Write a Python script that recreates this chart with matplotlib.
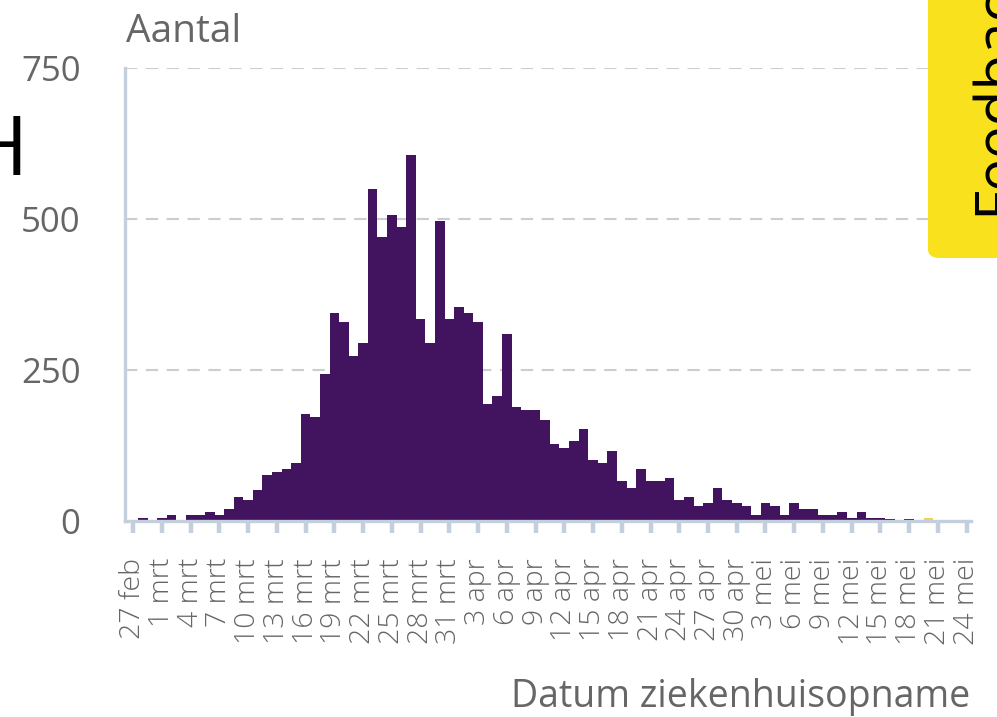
import matplotlib
matplotlib.use("Agg")
import matplotlib.pyplot as plt
from matplotlib.patches import FancyBboxPatch

# ---------------- data ----------------
tick_labels = ["27 feb", "1 mrt", "4 mrt", "7 mrt", "10 mrt", "13 mrt", "16 mrt",
               "19 mrt", "22 mrt", "25 mrt", "28 mrt", "31 mrt", "3 apr", "6 apr",
               "9 apr", "12 apr", "15 apr", "18 apr", "21 apr", "24 apr", "27 apr",
               "30 apr", "3 mei", "6 mei", "9 mei", "12 mei", "15 mei", "18 mei",
               "21 mei", "24 mei"]

# daily hospital admissions, 27 feb .. 24 mei (one value per day)
admissions = [0, 5, 0, 5, 10, 0, 10, 10, 15, 10,
              20, 40, 35, 51, 76, 81, 86, 96, 177, 172,
              243, 345, 329, 274, 294, 550, 471, 507, 487, 606,
              334, 294, 497, 334, 354, 344, 329, 193, 207, 309,
              188, 183, 183, 167, 127, 121, 132, 152, 101, 96,
              116, 66, 55, 86, 66, 66, 71, 35, 40, 25,
              30, 55, 35, 30, 25, 10, 30, 25, 10, 30,
              20, 20, 10, 10, 15, 5, 15, 5, 5, 4,
              0, 3, 0, 0, 0, 0, 0, 0]
# recent (not yet complete) reports
admissions_recent = [0] * 83 + [5] + [0] * 4

y_ticks = [0, 250, 500, 750]

# ---------------- style ----------------
W, H = 997, 717
PURPLE = "#42145f"
YELLOW = "#f4cf57"
GREY_TXT = "#666666"
AXIS_CLR = "#c3cfdd"
GRID_CLR = "#c9ced4"
FONT = ["Open Sans", "DejaVu Sans"]

plt.rcParams["font.family"] = FONT

fig = plt.figure(figsize=(W / 100, H / 100), dpi=100)
fig.patch.set_facecolor("white")

ax = fig.add_axes([125 / W, 1 - 521 / H, 846 / W, 453 / H])

x = list(range(len(admissions)))
ax.bar(x, admissions, width=1.0, color=PURPLE, linewidth=0, zorder=2)
ax.bar(x, admissions_recent, width=1.0, color=YELLOW, linewidth=0, zorder=2)

ax.set_xlim(-0.85, 87.45)
ax.set_ylim(0, 750)

ax.set_yticks(y_ticks)
ax.set_yticklabels([str(v) for v in y_ticks])
ax.tick_params(axis="y", length=0, pad=32, labelsize=25, labelcolor=GREY_TXT)

ax.set_xticks(list(range(0, len(admissions), 3)))
ax.set_xticklabels(tick_labels, rotation=90, fontweight="light")
ax.tick_params(axis="x", length=8.6, width=3.2, color=AXIS_CLR, pad=18,
               labelsize=20.5, labelcolor=GREY_TXT)

ax.grid(axis="y", color=GRID_CLR, linewidth=1.5, linestyle=(0, (5.9, 4.1)), zorder=1)
ax.set_axisbelow(True)

for s in ["top", "right"]:
    ax.spines[s].set_visible(False)
for s in ["left", "bottom"]:
    ax.spines[s].set_color(AXIS_CLR)
    ax.spines[s].set_linewidth(2.4)
    ax.spines[s].set_zorder(3)

# axis titles
fig.text(126 / W, 1 - 42 / H, "Aantal", ha="left", va="baseline",
         fontsize=28, color=GREY_TXT)
fig.text(970 / W, 1 - 707 / H, "Datum ziekenhuisopname", ha="right",
         va="baseline", fontsize=27, color=GREY_TXT)

# cropped page elements visible in the screenshot
fig.text(28 / W, 1 - 175 / H, "H", ha="right", va="baseline", fontsize=60,
         color="black")

tab = FancyBboxPatch((928 / W, 1 - 258 / H), 100 / W, 300 / H,
                     boxstyle="round,pad=0,rounding_size=0.012",
                     transform=fig.transFigure, facecolor="#f9e11e",
                     edgecolor="none", zorder=5)
fig.patches.append(tab)
fig.text(1013 / W, 1 - 215 / H, "Feedback", rotation=90, rotation_mode="anchor",
         ha="left", va="baseline", fontsize=42, color="black", zorder=6)

fig.savefig("out.png", dpi=100)
